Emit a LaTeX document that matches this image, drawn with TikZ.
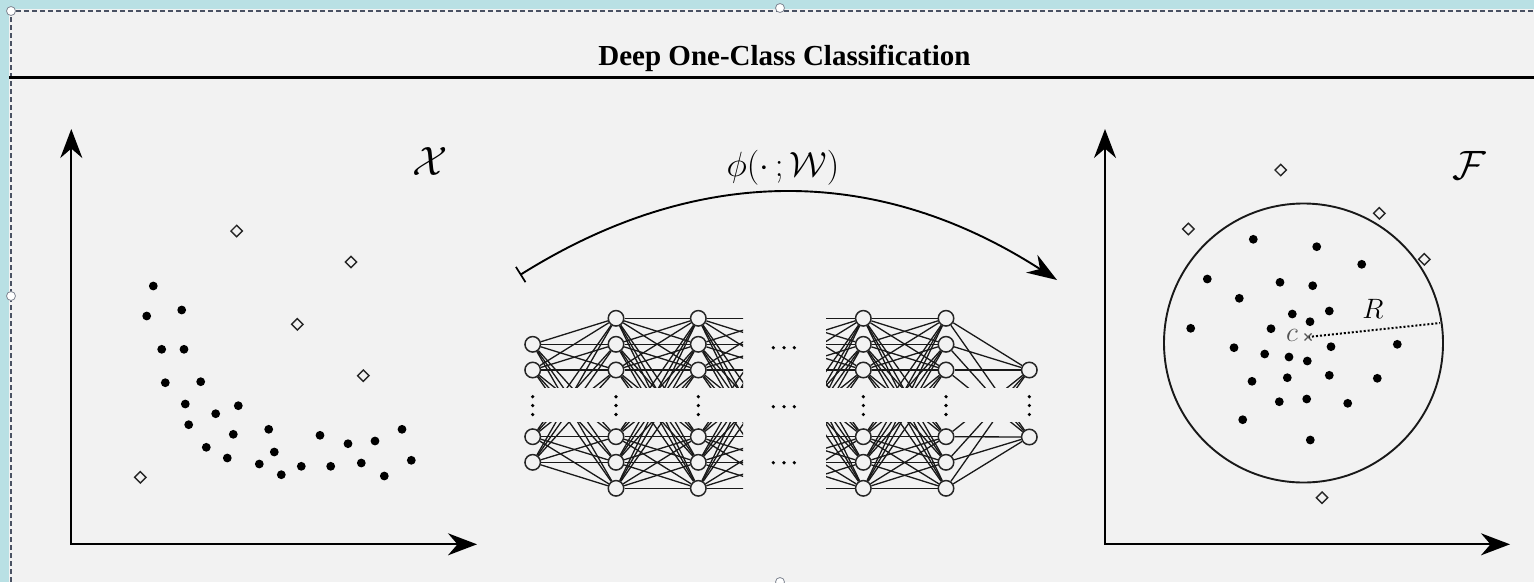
\RequirePackage{fix-cm}
\documentclass[tikz,border=0pt]{standalone}
\usepackage{fontspec}
\setmainfont{Liberation Serif}
\usetikzlibrary{arrows.meta,shapes.geometric,calc}
\definecolor{cyanbg}{HTML}{B9E0E4}
\definecolor{panel}{HTML}{F2F2F2}
\definecolor{framec}{HTML}{4A5263}
\definecolor{cgray}{HTML}{555555}
\tikzset{
  neuron/.style={circle,draw=black!85,line width=1.5pt,fill=panel,inner sep=0pt,minimum size=15.5pt},
  nnedge/.style={line width=1.3pt,black!90},
  inlier/.style={circle,fill=black,inner sep=0pt,minimum size=8.8pt},
  outlier/.style={diamond,draw=black!85,line width=1.4pt,fill=panel,inner sep=0pt,minimum size=12pt},
  axis/.style={line width=1.9pt,{Stealth[length=29pt,width=22pt]}-{Stealth[length=29pt,width=22pt]}},
  handle/.style={circle,draw=framec!70,fill=white,line width=0.8pt,inner sep=0pt,minimum size=9pt},
  ddot/.style={circle,fill=black,inner sep=0pt,minimum size=3.6pt},
  mathlbl/.style={font=\fontsize{35}{40}\selectfont},
  biglbl/.style={font=\fontsize{41}{46}\selectfont},
  smalllbl/.style={font=\fontsize{28}{32}\selectfont}
}
\begin{document}
\begin{tikzpicture}[x=1pt,y=-1pt]
\useasboundingbox (0,0) rectangle (1534,582);
% background and frame
\fill[cyanbg] (0,0) rectangle (1534,582);
\fill[panel] (9,9) rectangle (1534,582);
\draw[framec,line width=1.1pt,dash pattern=on 5pt off 3pt] (11,582) -- (11,11) -- (1534,11);
\node[handle] (h1) at (11,11) {};
\node[handle] (h2) at (11,296) {};
\node[handle] (h3) at (780,8) {};
\node[handle] (h4) at (780,582) {};
% title
\node[anchor=base,font=\fontsize{29}{34}\selectfont\bfseries,inner sep=0pt] (title) at (784.5,65.7) {Deep One-Class Classification};
\draw[line width=2.3pt] (9,77.5) -- (1534,77.5);

% left axes
\coordinate (LO) at (71.3,544.3);
\coordinate (LX) at (477,544.3);
\coordinate (LY) at (71.3,129);
\draw[axis] (LY) -- (LO) -- (LX);
\node[biglbl] (Xlbl) at (430,161) {$\mathcal{X}$};

% right axes
\coordinate (RO) at (1105,544.3);
\coordinate (RX) at (1510,544.3);
\coordinate (RY) at (1105,129);
\draw[axis] (RY) -- (RO) -- (RX);
\node[biglbl] (Flbl) at (1469,165) {$\mathcal{F}$};

% left data
\foreach \x/\y [count=\k] in {153.3/286,146.7/316,181.7/310,161.7/349.3,184/349.3,165.3/382.7,200.7/381.7,185.3/404,215.7/413.7,238.3/405.7,188.7/424.7,233.3/434.3,268.7/429.3,206.3/447.3,227.3/458,274.3/452,259.3/464,281.3/474.7,301.3/466.3,320/435.3,330.7/466.3,348/443.7,361.3/463,375/441,384.3/476,402/429.3,411.3/460.3}
  \node[inlier] (xin\k) at (\x,\y) {};
\foreach \x/\y [count=\k] in {236.7/231,351/262,297.3/324.3,363.3/375.7,140.3/477.3}
  \node[outlier] (xout\k) at (\x,\y) {};

% right data
\node[circle,draw=black!90,line width=1.9pt,inner sep=0pt,minimum size=279pt] (hyp) at (1303.5,343) {};
\foreach \x/\y [count=\k] in {1253.3/239.3,1316.7/246.7,1361.7/264.3,1207.3/279,1280/282.3,1312.7/285.7,1239.3/298.3,1292.3/314,1329.3/311,1310/321.7,1190.7/328.3,1271/328.7,1234/347.7,1264.7/354,1289/357,1307.3/361,1331/346.7,1397.3/344.3,1252/381.3,1287.3/377.7,1329.3/375.3,1377.3/378.3,1279.3/401.7,1306.7/399,1347.7/403.3,1242.7/419.7,1310.3/440}
  \node[inlier] (fin\k) at (\x,\y) {};
\foreach \x/\y [count=\k] in {1280.7/170,1188.3/229,1379.3/213.3,1424.3/259.3,1322/497.7}
  \node[outlier] (fout\k) at (\x,\y) {};
\coordinate (ctr) at (1308,337);
\coordinate (rim) at (1440,323);
\draw[line width=2pt,dotted] (ctr) -- (rim);
\draw[line width=1.3pt,cgray] ($(ctr)+(-3.5,-3.5)$) -- ($(ctr)+(3.5,3.5)$) ($(ctr)+(-3.5,3.5)$) -- ($(ctr)+(3.5,-3.5)$);
\node[smalllbl,text=cgray] (clbl) at (1292,335) {$c$};
\node[smalllbl] (Rlbl) at (1373,309) {$R$};

% network nodes
\foreach \i/\y in {1/344.3,2/370,3/436.7,4/462.3}
  \node[neuron] (A\i) at (532.7,\y) {};
\foreach \i/\y in {1/318.3,2/344.3,3/370,4/436.7,5/462.3,6/488.3}{
  \node[neuron] (B\i) at (616,\y) {};
  \node[neuron] (C\i) at (698.3,\y) {};
  \coordinate (V\i) at (781,\y);
  \coordinate (U\i) at (780,\y);
  \node[neuron] (D\i) at (863.3,\y) {};
  \node[neuron] (E\i) at (946,\y) {};
}
\node[neuron] (G1) at (1029.3,370) {};
\node[neuron] (G2) at (1029.3,437) {};

% edges
\foreach \a in {1,...,4} \foreach \b in {1,...,6} \draw[nnedge] (A\a) -- (B\b);
\foreach \a in {1,...,6} \foreach \b in {1,...,6} {
  \draw[nnedge] (B\a) -- (C\b);
  \draw[nnedge] (D\a) -- (E\b);
}
\foreach \a in {1,...,6} \foreach \b in {1,2} \draw[nnedge] (E\a) -- (G\b);
\begin{scope}
  \clip (690,300) rectangle (743,500);
  \foreach \a in {1,...,6} \foreach \b in {1,...,6} \draw[nnedge] (C\a) -- (V\b);
\end{scope}
\begin{scope}
  \clip (826,300) rectangle (870,500);
  \foreach \a in {1,...,6} \foreach \b in {1,...,6} \draw[nnedge] (U\a) -- (D\b);
\end{scope}
% gap band
\fill[panel] (520,388.3) rectangle (1045,421.7);
% vertical dots
\foreach \x [count=\k] in {532.7,616,698.3,863.3,946,1029.3}
  \foreach \y [count=\m] in {396.7,405.5,414.5}
    \node[ddot] (vd\k\m) at (\x,\y) {};
% horizontal dots
\foreach \y [count=\k] in {347.7,406.7,462.7}
  \foreach \x [count=\m] in {773.3,784,794.3}
    \node[ddot] (hd\k\m) at (\x,\y) {};

% mapping arc
\coordinate (arcS) at (520,275);
\coordinate (arcE) at (1057,280);
\draw[line width=1.9pt,{Bar[width=18pt,line width=1.7pt]}-{Stealth[length=30pt,width=21pt]}] (arcS) .. controls (700,162) and (880,166) .. (arcE);
\node[mathlbl] (philbl) at (783,168) {$\phi(\cdot\,;\mathcal{W})$};
\end{tikzpicture}
\end{document}
